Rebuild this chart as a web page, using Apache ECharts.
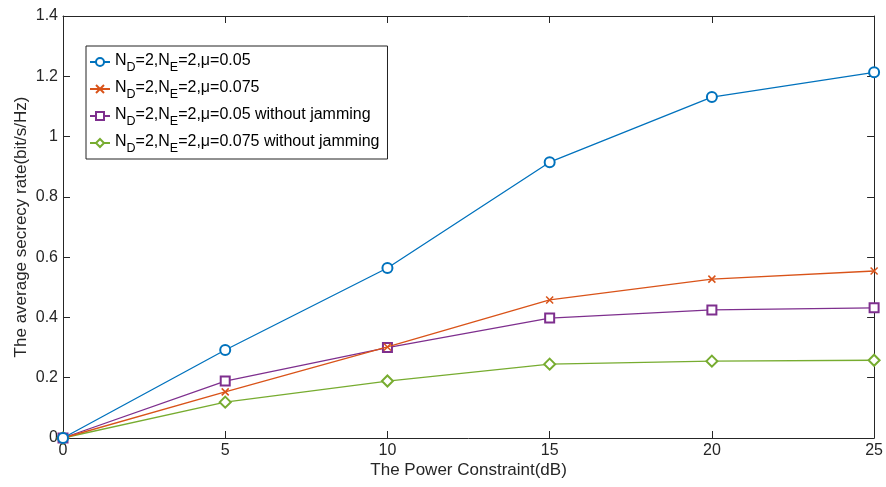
<!DOCTYPE html>
<html><head><meta charset="utf-8">
<script src="https://cdn.jsdelivr.net/npm/echarts@6/dist/echarts.min.js"></script>
<style>html,body{margin:0;padding:0;background:#fff}#c{width:886px;height:487px}</style>
</head><body><div id="c"></div>
<script>
const xValues = [0, 5, 10, 15, 20, 25];
const seriesNames = ['N_D=2,N_E=2,μ=0.05', 'N_D=2,N_E=2,μ=0.075', 'N_D=2,N_E=2,μ=0.05 without jamming', 'N_D=2,N_E=2,μ=0.075 without jamming'];
const blueValues = [0, 0.292, 0.564, 0.915, 1.131, 1.213];
const orangeValues = [0, 0.153, 0.302, 0.458, 0.527, 0.554];
const purpleValues = [0, 0.189, 0.300, 0.398, 0.425, 0.432];
const greenValues = [0, 0.119, 0.189, 0.245, 0.255, 0.258];
const yTicks = [0, 0.2, 0.4, 0.6, 0.8, 1, 1.2, 1.4];

const colors = ['#0072BD', '#D95319', '#7E2F8E', '#77AC30'];
const symbols = ['emptyCircle', 'path://M0,0L10,10M10,0L0,10', 'emptyRect', 'emptyDiamond'];
const symSizes = [10, 7, 9, 11];
const allValues = [blueValues, orangeValues, purpleValues, greenValues];
const font = 'Liberation Sans, Arial, Helvetica, sans-serif';

const series = allValues.map((vals, i) => ({
  name: seriesNames[i],
  type: 'line',
  data: xValues.map((x, j) => [x, vals[j]]),
  symbol: symbols[i],
  symbolSize: symSizes[i],
  showAllSymbol: true,
  lineStyle: { color: colors[i], width: 1.3 },
  itemStyle: i === 1 ? { color: 'rgba(0,0,0,0)', borderColor: colors[i], borderWidth: 1.5 } : { color: colors[i], borderColor: colors[i], borderWidth: 1.2 },
  z: 10 - i,
  animation: false
}));

function legendFmt(name) {
  const m = name.match(/^N_D=2,N_E=2,(.*)$/);
  return '{n|N}{s|D}{n|=2,N}{s|E}{n|=2,' + m[1] + '}';
}

const chart = echarts.init(document.getElementById('c'));
chart.setOption({
  animation: false,
  backgroundColor: '#fff',
  grid: { left: 63, right: 10, top: 16, bottom: 49 },
  legend: {
    orient: 'vertical', left: 86, top: 46,
    data: seriesNames,
    backgroundColor: '#fff', borderColor: '#222', borderWidth: 1,
    padding: [7, 8, 4, 3],
    itemGap: 6, itemWidth: 20, itemHeight: 10,
    formatter: legendFmt,
    textStyle: {
      fontFamily: font, color: '#000', fontSize: 16,
      rich: {
        n: { fontFamily: font, fontSize: 16, color: '#000', lineHeight: 18, verticalAlign: 'top' },
        s: { fontFamily: font, fontSize: 12.5, color: '#000', lineHeight: 14, verticalAlign: 'top', padding: [8, 0, 0, 0] }
      }
    }
  },
  xAxis: [{
    type: 'value', min: 0, max: 25, interval: 5,
    name: 'The Power Constraint(dB)', nameLocation: 'middle', nameGap: 24, nameMoveOverlap: false,
    nameTextStyle: { fontFamily: font, fontSize: 17, color: '#262626' },
    axisLine: { show: true, lineStyle: { color: '#262626', width: 1 } },
    axisTick: { show: true, inside: true, length: 7, lineStyle: { color: '#262626' } },
    axisLabel: { fontFamily: font, fontSize: 16, color: '#262626', margin: 5 },
    splitLine: { show: false }
  }, {
    type: 'value', min: 0, max: 25, interval: 5, position: 'top',
    axisLine: { show: true, onZero: false, lineStyle: { color: '#262626', width: 1 } },
    axisTick: { show: true, inside: true, length: 7, lineStyle: { color: '#262626' } },
    axisLabel: { show: false }, splitLine: { show: false }
  }],
  yAxis: [{
    type: 'value', min: 0, max: 1.4, interval: 0.2,
    name: 'The average secrecy rate(bit/s/Hz)', nameLocation: 'middle', nameGap: 33, nameMoveOverlap: false,
    nameTextStyle: { fontFamily: font, fontSize: 17, color: '#262626' },
    axisLine: { show: true, lineStyle: { color: '#262626', width: 1 } },
    axisTick: { show: true, inside: true, length: 7, lineStyle: { color: '#262626' } },
    axisLabel: { fontFamily: font, fontSize: 16, color: '#262626', margin: 5,
      formatter: v => { const t = yTicks.find(k => Math.abs(k - v) < 1e-9); return String(t !== undefined ? t : +v.toFixed(1)); } },
    splitLine: { show: false }
  }, {
    type: 'value', min: 0, max: 1.4, interval: 0.2, position: 'right',
    axisLine: { show: true, onZero: false, lineStyle: { color: '#262626', width: 1 } },
    axisTick: { show: true, inside: true, length: 7, lineStyle: { color: '#262626' } },
    axisLabel: { show: false }, splitLine: { show: false }
  }],
  series: series
});
</script></body></html>
